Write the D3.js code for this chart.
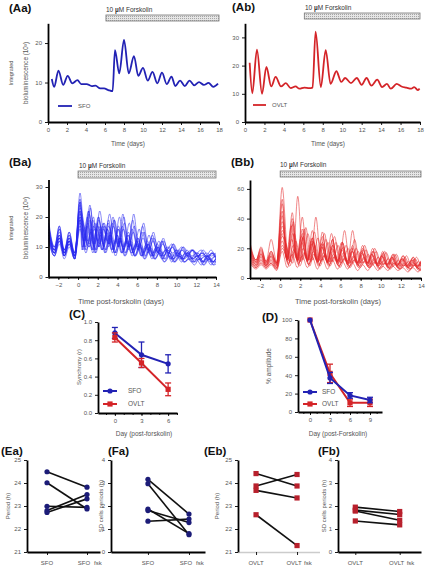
<!DOCTYPE html>
<html><head><meta charset="utf-8">
<script src="https://cdn.jsdelivr.net/npm/d3@7"></script>
<style>body{margin:0;background:#fff} svg{display:block}</style>
</head><body>
<svg id="c" width="426" height="568"></svg>
<script>
// ---------------- DATA ----------------
// Panel A: single recordings (days, bioluminescence x10^3)
const aaDays = [0.4,0.65,1.1,1.6,2.07,2.56,3.1,3.5,4.07,4.6,5.0,5.5,5.9,6.35,6.8,7.05,7.5,8.0,8.5,9.05,9.5,10.0,10.5,11.0,11.5,12.0,12.5,13.0,13.4,13.9,14.4,14.9,15.4,15.9,16.4,16.9,17.4,17.9];
const aaSFO  = [10.9,8.9,13.0,9.4,11.7,9.8,10.6,9.6,9.6,9.1,9.2,8.5,8.5,8.1,7.8,18.2,12.3,20.8,12.3,16.7,11.7,13.7,10.5,12.7,9.8,12.5,9.6,11.5,9.1,10.5,9.1,10.5,9.3,10.1,9.4,9.9,8.9,9.7];
const abDays = [0.48,0.75,1.23,1.75,2.2,2.7,3.15,3.7,4.2,4.7,5.2,5.6,6.1,6.6,6.95,7.26,7.8,8.3,8.8,9.4,9.9,10.3,10.9,11.5,12.0,12.5,13.0,13.6,14.1,14.6,15.0,15.6,16.1,16.6,17.1,17.4,17.8,17.95];
const abOVLT = [21.0,10.2,25.7,10.0,19.5,12.6,16.0,12.6,13.8,12.0,12.6,11.8,12.2,12.0,12.2,32.0,12.4,25.5,13.5,18.0,14.2,15.6,13.8,15.6,13.2,15.6,12.9,15.0,12.4,13.5,11.8,13.5,12.6,12.2,11.8,12.4,11.3,11.9];
const fskA = [6.1, 18];      // forskolin period (days), panel A
const fskB = [0, 14];        // forskolin period (days), panel B

// Panel B: individual cells; shared sample times (days post-forskolin)
const preT  = [-3.0,-2.4,-1.9,-1.4,-0.9,-0.35,0.2];
const postT = [0.7,1.2,1.7,2.2,2.7,3.2,3.7,4.2,4.7,5.2,5.7,6.2,6.7,7.2,7.7,8.2,8.7,9.2,9.7,10.2,10.7,11.2,11.7,12.2,12.7,13.2,13.7,14.2,14.7,15.2];

const bluePre = [
 [18,8,16,7,14,6,28],[15,9,15,8,13,7,26],[19,10,17,9,15,8,23],[14,8,13,7,12,6,20],
 [17,9,14,8,12,7,25],[13,7,12,7,11,6,18],[16,8,14,9,13,8,22],[12,7,11,6,10,6,16],
 [15,10,13,9,12,8,21],[18,9,17,8,15,7,24],[14,8,12,8,11,7,19],[16,9,14,8,13,7,20],
 [13,8,12,7,11,7,17],[17,10,16,9,14,8,25],[15,7,13,7,12,6,22],[14,9,13,8,12,7,19]];
const bluePost = [
 [12,24,11,22,12,21,11,20,10,18,9,16,8,14,8,12,7,10,7,9,6,8,6,8,5,7,5,7,5,6],
 [10,22,9,20,10,19,9,17,9,15,8,13,7,11,7,10,6,9,6,8,6,8,6,7,5,7,5,6,5,6],
 [11,20,10,18,11,20,10,21,10,19,9,17,9,14,8,12,7,10,7,9,7,9,6,8,6,8,6,7,6,7],
 [9,18,8,17,9,16,8,14,8,12,7,11,7,10,6,9,6,8,5,7,5,7,5,6,4,6,4,6,4,5],
 [10,23,9,17,9,15,8,13,8,12,7,11,7,10,7,9,6,8,6,8,6,7,5,7,5,7,5,6,5,6],
 [10,16,10,18,11,19,10,20,10,21,10,18,9,15,8,13,8,11,7,10,7,9,7,8,6,8,6,7,6,7],
 [10,20,9,18,9,16,9,14,8,13,8,12,7,11,7,10,7,9,6,9,6,8,6,8,6,7,6,7,5,7],
 [8,15,8,14,8,13,7,12,7,11,7,10,6,9,6,8,5,7,5,7,5,6,4,6,4,6,4,5,4,5],
 [12,19,12,17,12,18,11,17,11,16,10,15,10,13,9,12,9,11,8,10,8,9,8,9,7,9,7,8,7,8],
 [11,21,10,19,10,17,9,16,9,14,8,12,8,11,7,10,7,9,6,8,6,8,6,7,5,7,5,6,5,6],
 [9,17,9,16,9,15,9,13,8,12,8,11,7,10,7,9,7,9,6,8,6,8,6,7,6,7,5,7,5,6],
 [11,18,11,17,11,19,11,18,10,17,10,15,9,13,9,12,8,11,8,10,8,9,7,9,7,8,7,8,7,8],
 [9,16,9,15,9,14,8,13,8,12,7,11,7,10,6,9,6,8,5,7,5,7,5,6,5,6,5,6,5,6],
 [12,22,11,20,11,18,10,16,10,14,9,13,9,12,8,11,8,10,8,9,7,9,7,8,7,8,7,8,6,8],
 [9,19,8,16,8,14,8,13,7,11,7,10,6,9,6,8,5,7,5,7,5,6,5,6,4,6,4,6,4,5],
 [10,17,10,16,10,17,10,16,9,15,9,13,8,12,8,11,8,10,7,9,7,9,7,8,7,8,6,8,6,7]];
const blueLag = [0,-0.1,0.35,-0.2,0.05,0.45,-0.25,0.1,0.3,-0.08,-0.3,0.5,0.15,-0.15,0.02,0.4];

const redPre = [
 [22,12,20,11,18,10,61],[18,10,16,9,15,9,53],[14,8,13,8,12,7,28],[20,11,18,10,17,10,50],
 [12,7,11,7,10,6,25],[16,9,15,9,14,8,35],[24,12,21,11,26,11,45],[10,6,9,6,9,5,18],
 [15,9,14,8,13,8,32],[19,11,17,10,16,10,38],[13,8,12,8,11,7,22],[17,10,16,9,15,9,42],
 [11,7,10,7,10,6,20],[21,12,19,11,18,10,30]];
const redPost = [
 [13,38,12,28,12,24,11,21,10,19,10,17,9,15,9,14,8,13,8,12,7,11,7,10,7,10,6,9,6,9],
 [12,44,11,33,11,27,10,24,10,22,9,20,9,18,8,16,8,15,8,14,7,13,7,12,7,11,6,10,6,10],
 [10,55,12,30,12,27,12,24,11,22,11,20,10,18,10,16,9,14,9,13,8,12,8,11,8,11,7,10,7,10],
 [13,40,12,41,11,32,11,28,10,26,10,24,9,22,9,20,9,18,8,16,8,14,8,13,7,12,7,11,7,10],
 [9,22,9,20,9,18,8,17,8,16,8,15,7,14,7,13,7,12,6,11,6,10,6,9,5,9,5,8,5,8],
 [11,30,11,33,12,31,12,30,11,28,11,32,10,26,10,22,9,20,9,18,9,16,8,14,8,13,8,12,7,11],
 [14,35,13,28,13,25,12,23,12,30,11,24,11,20,10,18,10,16,9,15,9,14,8,13,8,12,7,11,7,11],
 [7,16,7,15,7,14,6,13,6,12,6,11,6,10,5,9,5,9,5,8,5,8,5,7,4,7,4,7,4,6],
 [11,25,11,34,11,41,11,26,11,24,10,22,10,20,10,19,9,18,9,17,9,16,8,15,8,14,8,13,8,12],
 [12,30,12,27,12,25,11,23,11,22,11,21,10,20,10,19,10,18,9,17,9,16,9,15,8,14,8,14,8,13],
 [10,19,10,17,9,16,9,15,9,14,8,13,8,12,8,11,7,11,7,10,7,10,6,9,6,9,6,8,6,8],
 [12,36,12,30,12,27,11,31,11,26,11,24,10,32,10,22,10,20,9,18,9,16,9,15,8,14,8,13,8,12],
 [8,18,8,17,8,22,8,16,8,15,7,14,7,13,7,12,7,11,6,10,6,10,6,9,6,9,5,8,5,8],
 [13,26,13,24,12,23,12,21,11,20,11,19,11,18,10,17,10,16,10,15,9,14,9,13,9,13,8,12,8,12]];
const redLag = [0.1,0,0.55,0,0.1,0.2,-0.1,0,0.35,0.05,0.15,0,0.25,-0.05];

// Panel C: synchrony (r)
const cDays = [0,3,6];
const cSFO = [0.88,0.64,0.54], cSFOerr = [0.06,0.14,0.10];
const cOVLT = [0.83,0.55,0.26], cOVLTerr = [0.05,0.05,0.07];
// Panel D: % amplitude
const dDays = [0,3,6,9];
const dSFO = [100,37,18,13], dSFOerr = [0,6,3,3];
const dOVLT = [100,42,10,10], dOVLTerr = [0,10,4,4];
// Panels E/F: before vs after forskolin
const eaBefore = [24.49,24.01,22.99,22.80,22.72], eaAfter = [23.82,22.87,22.94,23.50,23.31];
const faBefore = [3.16,2.97,1.87,1.80,1.34],     faAfter = [1.65,0.75,0.80,1.28,1.43];
const ebBefore = [24.41,23.87,23.68,22.62],      ebAfter = [23.87,24.37,23.35,21.28];
const fbBefore = [1.95,1.82,1.78,1.35],          fbAfter = [1.76,1.63,1.38,1.18];

// ---------------- DRAWING ----------------
const FONT = '"Liberation Sans", Arial, Helvetica, sans-serif';
const BLUE = "#2222b4", RED = "#d42428", TXT = "#555";
const svg = d3.select("#c").attr("font-family", FONT);
const defs = svg.append("defs");
const pat = defs.append("pattern").attr("id","dots").attr("width",2).attr("height",2).attr("patternUnits","userSpaceOnUse");
pat.append("rect").attr("width",2).attr("height",2).attr("fill","#e6e6e6");
pat.append("rect").attr("width",1).attr("height",1).attr("fill","#a6a6a6");

function styleAxis(g, col){
  g.select(".domain").attr("stroke", col||"#000").attr("stroke-width",1.8);
  g.selectAll(".tick line").attr("stroke","#000").attr("stroke-width",0.9);
  g.selectAll(".tick text").attr("font-size",6).attr("fill",TXT).attr("font-family",FONT);
}
function drawAxes(x, y, xt, yt, o){
  o = o||{};
  const gy = svg.append("g").attr("transform",`translate(${x.range()[0]},0)`)
    .call(d3.axisLeft(y).tickValues(yt).tickSize(3).tickSizeOuter(0).tickPadding(3).tickFormat(o.yf||d3.format("d")));
  styleAxis(gy);
  if (xt) {
    if (o.xminor) {
      const gm = svg.append("g").attr("transform",`translate(0,${y.range()[0]})`)
        .call(d3.axisBottom(x).tickValues(o.xminor).tickSize(2).tickSizeOuter(0).tickFormat(""));
      styleAxis(gm); gm.select(".domain").remove();
    }
    const gx = svg.append("g").attr("transform",`translate(0,${y.range()[0]})`)
      .call(d3.axisBottom(x).tickValues(xt).tickSize(3).tickSizeOuter(0).tickPadding(3).tickFormat(o.xf||d3.format("d")));
    styleAxis(gx, o.xcol);
    if (o.xdash) gx.select(".domain").attr("stroke-dasharray", o.xdash).attr("stroke-width",1.4);
    return gx;
  }
}
function label(txt, x, y){
  svg.append("text").attr("x",x).attr("y",y).attr("font-size",11.5).attr("font-weight","bold").attr("fill","#111").text(txt);
}
function ytitle(txt, x, y, fs){
  svg.append("text").attr("transform",`translate(${x},${y}) rotate(-90)`).attr("text-anchor","middle")
    .attr("font-size",fs||6).attr("fill",TXT).text(txt);
}
function xtitle(txt, x, y, fs){
  svg.append("text").attr("x",x).attr("y",y).attr("text-anchor","middle").attr("font-size",fs||6.5).attr("fill",TXT).text(txt);
}
function fskBar(x, range, y0, h, tx, ty){
  svg.append("rect").attr("x",x(range[0])).attr("y",y0).attr("width",x(range[1])-x(range[0])).attr("height",h)
    .attr("fill","url(#dots)").attr("stroke","#777").attr("stroke-width",0.8);
  const t = svg.append("text").attr("x",tx).attr("y",ty).attr("font-size",6.5).attr("fill","#333");
  t.append("tspan").text("10  ");
  t.append("tspan").attr("font-weight","bold").text("\u00b5");
  t.append("tspan").text("M Forskolin");
}
const yBio = ["Integrated", "bioluminescence (10\u00b3)"];

// ---- Aa ----
{
  const x = d3.scaleLinear().domain([0,18]).range([48,219]);
  const y = d3.scaleLinear().domain([0,25]).range([122,23.3]);
  drawAxes(x,y,d3.range(0,19,2),[0,10,20]);
  fskBar(x, fskA, 15, 6, 106, 12);
  svg.append("path").datum(aaDays.map((d,i)=>[d,aaSFO[i]]))
    .attr("d", d3.line().x(d=>x(d[0])).y(d=>y(d[1])).curve(d3.curveMonotoneX))
    .attr("fill","none").attr("stroke",BLUE).attr("stroke-width",1.8);
  svg.append("line").attr("x1",58).attr("x2",72).attr("y1",106).attr("y2",106).attr("stroke",BLUE).attr("stroke-width",1.8);
  svg.append("text").attr("x",78).attr("y",108).attr("font-size",6).attr("fill",TXT).text("SFO");
  ytitle(yBio[0],13,73,5.5); ytitle(yBio[1],28,73,6.3);
  xtitle("Time (days)",128,146);
  label("(Aa)",9,12);
}
// ---- Ab ----
{
  const x = d3.scaleLinear().domain([0,18]).range([245,420]);
  const y = d3.scaleLinear().domain([0,35]).range([122,23.3]);
  drawAxes(x,y,d3.range(0,19,2),[0,10,20,30]);
  fskBar(x, fskA, 13, 6, 305, 10);
  svg.append("path").datum(abDays.map((d,i)=>[d,abOVLT[i]]))
    .attr("d", d3.line().x(d=>x(d[0])).y(d=>y(d[1])).curve(d3.curveMonotoneX))
    .attr("fill","none").attr("stroke",RED).attr("stroke-width",1.8);
  svg.append("line").attr("x1",253).attr("x2",266).attr("y1",105).attr("y2",105).attr("stroke",RED).attr("stroke-width",1.8);
  svg.append("text").attr("x",272).attr("y",107).attr("font-size",6).attr("fill",TXT).text("OVLT");
  xtitle("Time (days)",328,146);
  label("(Ab)",232,11);
}
// ---- Ba / Bb ----
function spaghetti(x, y, pres, posts, lags, col, id){
  defs.append("clipPath").attr("id",id).append("rect")
    .attr("x",x.range()[0]).attr("y",y.range()[1]).attr("width",x.range()[1]-x.range()[0]).attr("height",y.range()[0]-y.range()[1]);
  const line = d3.line().x(d=>x(d[0])).y(d=>y(d[1])).curve(d3.curveMonotoneX);
  const g = svg.append("g").attr("clip-path",`url(#${id})`);
  pres.forEach((pre,k)=>{
    const pts = preT.map((t,i)=>[t,pre[i]]).concat(postT.map((t,i)=>[t+lags[k], posts[k][i]]));
    g.append("path").datum(pts).attr("d",line).attr("fill","none").attr("stroke",col).attr("stroke-width",0.55);
  });
}
{
  const x = d3.scaleLinear().domain([-3,14]).range([48.5,216]);
  const y = d3.scaleLinear().domain([0,32.5]).range([277,179.5]);
  spaghetti(x,y,bluePre,bluePost,blueLag,"#2a2af0","clipBa");
  drawAxes(x,y,d3.range(-2,15,2),[0,10,20,30],{xminor:d3.range(-3,15,1)});
  fskBar(x, fskB, 171, 7, 79, 168);
  ytitle(yBio[0],13,228,5.5); ytitle(yBio[1],28,228,6.3);
  xtitle("Time post-forskolin (days)",121,304,7.5);
  label("(Ba)",9,166);
}
{
  const x = d3.scaleLinear().domain([-3,14]).range([250,421]);
  const y = d3.scaleLinear().domain([0,66]).range([278,180]);
  spaghetti(x,y,redPre,redPost,redLag,"#e42628","clipBb");
  drawAxes(x,y,d3.range(-2,15,2),[0,20,40,60],{xminor:d3.range(-3,15,1)});
  fskBar(x, fskB, 171, 6, 280, 167);
  xtitle("Time post-forskolin (days)",338,304,7.5);
  label("(Bb)",231,166);
}
// ---- C / D ----
function errSeries(x, y, days, vals, errs, col, shape){
  const line = d3.line().x((d,i)=>x(days[i])).y(d=>y(d));
  svg.append("path").datum(vals).attr("d",line).attr("fill","none").attr("stroke",col).attr("stroke-width",2);
  const g = svg.append("g");
  vals.forEach((v,i)=>{
    if (errs[i] > 0) {
      const cx = x(days[i]);
      g.append("line").attr("x1",cx).attr("x2",cx).attr("y1",y(v-errs[i])).attr("y2",y(v+errs[i])).attr("stroke",col).attr("stroke-width",1.3);
      [v-errs[i], v+errs[i]].forEach(e=>g.append("line").attr("x1",cx-3).attr("x2",cx+3).attr("y1",y(e)).attr("y2",y(e)).attr("stroke",col).attr("stroke-width",1.3));
    }
  });
  vals.forEach((v,i)=>marker(g, x(days[i]), y(v), col, shape));
}
function marker(g, cx, cy, col, shape){
  if (shape==="c") g.append("circle").attr("cx",cx).attr("cy",cy).attr("r",2.6).attr("fill",col);
  else g.append("rect").attr("x",cx-2.6).attr("y",cy-2.6).attr("width",5.2).attr("height",5.2).attr("fill",col);
}
function legend2(x0, y1, y2, tx){
  const g = svg.append("g");
  [[y1,BLUE,"c","SFO"],[y2,RED,"s","OVLT"]].forEach(([yy,col,sh,t])=>{
    g.append("line").attr("x1",x0).attr("x2",x0+14).attr("y1",yy).attr("y2",yy).attr("stroke",col).attr("stroke-width",2);
    marker(g, x0+7, yy, col, sh);
    g.append("text").attr("x",tx).attr("y",yy+2.3).attr("font-size",6.5).attr("fill",TXT).text(t);
  });
}
{
  const x = d3.scaleLinear().domain([-1.9,7]).range([98,177]);
  const y = d3.scaleLinear().domain([0,1]).range([413,322]);
  drawAxes(x,y,cDays,d3.range(0,1.01,0.2),{yf:d3.format(".1f"),xminor:d3.range(-1,8,1)});
  errSeries(x,y,cDays,cSFO,cSFOerr,BLUE,"c");
  errSeries(x,y,cDays,cOVLT,cOVLTerr,RED,"s");
  legend2(103,391,404,128);
  ytitle("Synchrony (r)",81,367);
  xtitle("Day (post-forskolin)",144,436);
  label("(C)",69,318);
}
{
  const x = d3.scaleLinear().domain([-1.8,10.8]).range([298,382]);
  const y = d3.scaleLinear().domain([0,100]).range([412,320]);
  drawAxes(x,y,dDays,d3.range(0,101,20),{xminor:d3.range(-1,11,1)});
  errSeries(x,y,dDays,dOVLT,dOVLTerr,RED,"s");
  errSeries(x,y,dDays,dSFO,dSFOerr,BLUE,"c");
  legend2(303,392,404,322);
  ytitle("% amplitude",271,366,6.5);
  xtitle("Day (post-Forskolin)",338,436);
  label("(D)",262,321);
}
// ---- E / F ----
function pairPanel(x, y, before, after, yt, col, shape, names, o){
  drawAxes(x,y,[0,1],yt,Object.assign({xf:()=>""},o||{}));
  const g = svg.append("g");
  before.forEach((b,i)=>g.append("line").attr("x1",x(0)).attr("x2",x(1)).attr("y1",y(b)).attr("y2",y(after[i]))
    .attr("stroke","#111").attr("stroke-width",1.6));
  before.forEach(b=>marker(g,x(0),y(b),col,shape));
  after.forEach(a=>marker(g,x(1),y(a),col,shape));
  const ty = 565;
  svg.append("text").attr("x",x(0)).attr("y",ty).attr("text-anchor","middle").attr("font-size",6).attr("fill",TXT).text(names);
  svg.append("text").attr("x",x(1)-3).attr("y",ty).attr("text-anchor","middle").attr("font-size",6).attr("fill",TXT).text(names);
  svg.append("text").attr("x",x(1)+7).attr("y",ty).attr("font-size",6).attr("fill",TXT).text("fsk");
}
const NAVY = "#1c1c78", DRED = "#b8202c";
{
  const x = d3.scaleLinear().domain([-0.5,1.325]).range([27,100]);
  const y = d3.scaleLinear().domain([21,25]).range([552,460]);
  pairPanel(x,y,eaBefore,eaAfter,[21,22,23,24,25],NAVY,"c","SFO");
  ytitle("Period (h)",10,506);
  label("(Ea)",1,455);
}
{
  const x = d3.scaleLinear().domain([-0.9,1.39]).range([111,205]);
  const y = d3.scaleLinear().domain([0,4]).range([552,460]);
  pairPanel(x,y,faBefore,faAfter,[0,1,2,3,4],NAVY,"c","SFO");
  ytitle("SD cells periods (h)",103,506);
  label("(Fa)",108,455);
}
{
  const x = d3.scaleLinear().domain([-0.44,1.56]).range([238,320]);
  const y = d3.scaleLinear().domain([21,25]).range([552,460]);
  pairPanel(x,y,ebBefore,ebAfter,[21,22,23,24,25],DRED,"s","OVLT",{xcol:"#999",xdash:"1,1"});
  ytitle("Period (h)",219,506);
  label("(Eb)",204,455);
}
{
  const x = d3.scaleLinear().domain([-0.39,1.48]).range([338,421]);
  const y = d3.scaleLinear().domain([0,4]).range([552,460]);
  pairPanel(x,y,fbBefore,fbAfter,[0,1,2,3,4],DRED,"s","OVLT");
  ytitle("SD cells periods (h)",326,506);
  label("(Fb)",318,455);
}
</script>
</body></html>
